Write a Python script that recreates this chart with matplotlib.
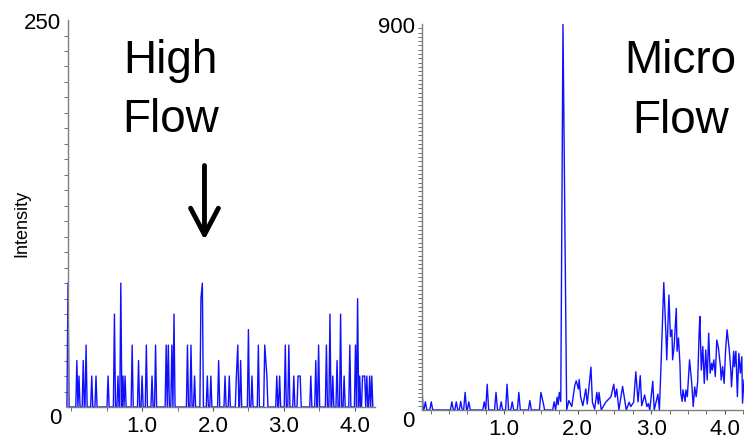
import matplotlib
matplotlib.use("Agg")
import matplotlib.pyplot as plt
from matplotlib.ticker import MultipleLocator

plt.rcParams['font.family'] = ['Liberation Sans', 'DejaVu Sans']

# ===== Data =====
# High flow: isolated noise spikes, retention time (min) / intensity
hf_time = [-0.045, 0.08, 0.11, 0.17, 0.21, 0.29, 0.35, 0.52, 0.61, 0.66, 0.70, 0.73,
           0.76, 0.86, 0.95, 1.00, 1.06, 1.14, 1.19, 1.34, 1.37, 1.42, 1.45, 1.64,
           1.69, 1.74, 1.83, 1.85, 1.92, 1.97, 2.08, 2.17, 2.23, 2.33, 2.35, 2.39,
           2.50, 2.55, 2.64, 2.73, 2.76, 2.90, 2.94, 3.02, 3.07, 3.14, 3.20, 3.23,
           3.38, 3.45, 3.49, 3.60, 3.65, 3.69, 3.75, 3.80, 3.85, 3.93, 4.01, 4.04,
           4.07, 4.11, 4.14, 4.17, 4.21, 4.24]
hf_int = [80, 30, 20, 30, 40, 20, 20, 20, 60, 20, 80, 20,
          20, 40, 30, 20, 40, 20, 40, 40, 40, 40, 60, 40,
          40, 20, 70, 80, 20, 20, 30, 20, 20, 20, 40, 30,
          50, 20, 40, 40, 20, 20, 20, 40, 40, 20, 20, 20,
          20, 30, 40, 40, 60, 20, 30, 60, 20, 40, 40, 70,
          20, 20, 20, 20, 20, 20]

# Micro flow: early isolated spikes
mf_peak_time = [-0.12, -0.07, 0.01, 0.29, 0.35, 0.41, 0.47, 0.52, 0.73, 0.77,
                0.89, 0.96, 1.04, 1.11, 1.20, 1.35, 1.50, 1.53]
mf_peak_int = [60, 19, 19, 19, 19, 20, 41, 19, 19, 60,
               41, 19, 60, 19, 41, 22, 41, 18]

# Micro flow: continuous trace from the big peak onwards
mf_time = [1.66, 1.68, 1.70, 1.72, 1.735, 1.75, 1.77, 1.80, 1.85, 1.88, 1.92, 1.96,
           1.98, 2.01, 2.02, 2.04, 2.07, 2.11, 2.13, 2.18, 2.20, 2.23, 2.26, 2.28,
           2.29, 2.32, 2.38, 2.43, 2.45, 2.49, 2.51, 2.53, 2.56, 2.61, 2.66, 2.70,
           2.72, 2.76, 2.79, 2.82, 2.85, 2.87, 2.91, 2.94, 2.96, 2.98, 3.02, 3.04,
           3.09, 3.11, 3.13, 3.17, 3.20, 3.21, 3.24, 3.26, 3.28, 3.29, 3.31, 3.34,
           3.35, 3.37, 3.39, 3.40, 3.42, 3.43, 3.46, 3.47, 3.49, 3.52, 3.55, 3.57,
           3.59, 3.61, 3.63, 3.65, 3.66, 3.68, 3.70, 3.72, 3.74, 3.76, 3.78, 3.80,
           3.82, 3.83, 3.85, 3.87, 3.89, 3.91, 3.94, 3.95, 3.97, 3.99, 4.01, 4.03,
           4.06, 4.08, 4.09, 4.12, 4.13, 4.15, 4.17, 4.19, 4.21, 4.23, 4.24, 4.26]
mf_int = [0, 19, 0, 30, 12, 41, 20, 900, 0, 22, 8, 57,
          68, 49, 71, 30, 10, 49, 14, 100, 18, 2, 41, 14,
          41, 0, 18, 27, 30, 60, 30, 49, 0, 55, 0, 18,
          8, 18, 89, 19, 80, 10, 35, 8, 15, 0, 67, 0,
          37, 0, 93, 297, 171, 117, 268, 171, 187, 117, 148, 237,
          137, 168, 106, 40, 20, 47, 20, 47, 31, 117, 62, 8,
          54, 31, 65, 179, 218, 93, 148, 62, 140, 70, 179, 86,
          109, 93, 117, 78, 163, 148, 101, 70, 101, 62, 140, 187,
          140, 93, 54, 137, 101, 137, 31, 132, 86, 124, 16, 70]

x_labels = ["1.0", "2.0", "3.0", "4.0"]
x_ticks = [1.0, 2.0, 3.0, 4.0]


def spike_trace(times, heights, hw=0.015):
    """Turn a list of spikes into line vertices dropping back to zero."""
    xs, ys = [], []
    for i, (t, h) in enumerate(zip(times, heights)):
        prev_close = i > 0 and t - times[i - 1] < 2 * hw
        next_close = i < len(times) - 1 and times[i + 1] - t < 2 * hw
        if not prev_close:
            xs.append(t - hw)
            ys.append(0)
        xs.append(t)
        ys.append(h)
        if not next_close:
            xs.append(t + hw)
            ys.append(0)
    return xs, ys


def style_axis(ax, ymax, xmin, xmax, minor_x):
    ax.set_xlim(xmin, xmax)
    ax.set_ylim(0, ymax)
    for s in ["top", "right"]:
        ax.spines[s].set_visible(False)
    for s in ["left", "bottom"]:
        ax.spines[s].set_color("#7f7f7f")
        ax.spines[s].set_linewidth(1.0)
    ax.set_yticks([0, ymax])
    ax.set_yticklabels(["0", str(ymax)])
    ax.get_yticklabels()[0].set_va("top")
    ax.yaxis.set_minor_locator(MultipleLocator(10))
    ax.set_xticks(x_ticks)
    ax.set_xticklabels(x_labels)
    ax.xaxis.set_minor_locator(MultipleLocator(minor_x))
    ax.tick_params(axis="both", which="both", colors="#555555", labelcolor="black",
                   labelsize=16, direction="out")
    ax.tick_params(axis="both", which="major", length=3, width=0.8)
    ax.tick_params(axis="both", which="minor", length=3, width=0.6)
    ax.tick_params(axis="y", which="major", pad=5, length=0)
    ax.tick_params(axis="x", which="major", pad=3)


fig = plt.figure(figsize=(7.44, 4.39), dpi=100)

# ===== High flow =====
ax1 = fig.add_axes([0.0914, 0.0706, 0.4126, 0.8815])
x, y = spike_trace(hf_time, hf_int)
ax1.plot(x, y, color="#1010ff", lw=1.0, clip_on=False)
style_axis(ax1, 250, -0.045, 4.285, 0.5)
ax1.text(1.4, 205, "High\nFlow", fontsize=33, ha="center", va="center",
         linespacing=1.45)
ax1.annotate("", xy=(1.88, 108), xytext=(1.88, 156),
             arrowprops=dict(arrowstyle="->,head_length=0.95,head_width=0.5",
                             lw=3.5, color="black", mutation_scale=20,
                             shrinkA=0, shrinkB=0))
fig.text(0.03, 0.49, "Intensity", rotation=90, fontsize=13, ha="center", va="center")

# ===== Micro flow =====
ax2 = fig.add_axes([0.5668, 0.0638, 0.4332, 0.8793])
x, y = spike_trace(mf_peak_time, mf_peak_int, hw=0.02)
ax2.plot(x + mf_time, y + mf_int, color="#1010ff", lw=1.0)
style_axis(ax2, 900, -0.12, 4.26, 0.25)
ax2.text(3.4, 746, "Micro\nFlow", fontsize=33, ha="center", va="center",
         linespacing=1.45)

plt.savefig("out.png", dpi=100)
plt.close()
